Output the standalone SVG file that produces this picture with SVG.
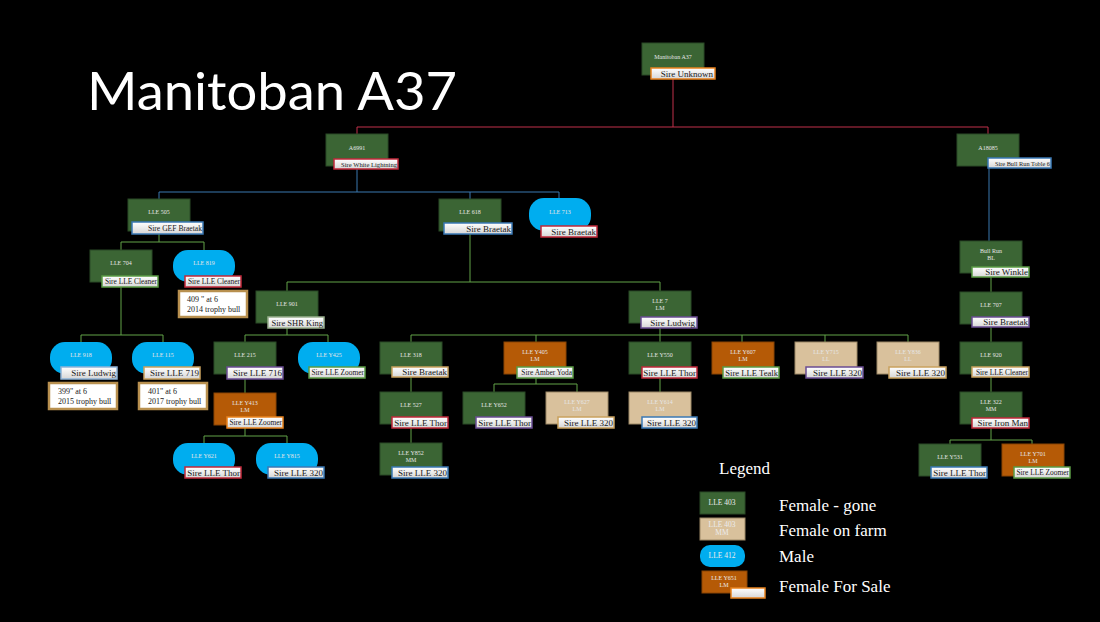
<svg xmlns="http://www.w3.org/2000/svg" width="1100" height="622" viewBox="0 0 1100 622">
<defs>
<linearGradient id="lg" x1="0" y1="0" x2="0" y2="1"><stop offset="0" stop-color="#ffffff"/><stop offset="1" stop-color="#d6d6d6"/></linearGradient>
<style>
.g{fill:#3b6534;stroke:#2b4a26;stroke-width:1}
.o{fill:#b55a06;stroke:#8a4504;stroke-width:1}
.t{fill:#d9c19c;stroke:#9c8866;stroke-width:1}
.m{fill:#00adef}
.nt{font-family:"Liberation Serif",serif;font-size:6px;fill:#e6e6e6;text-anchor:middle}
.lb{fill:url(#lg);stroke-width:1.5}
.lt{font-family:"Liberation Serif",serif;font-size:9px;fill:#1a1a1a;text-anchor:end}
.sm{font-size:7.4px}
.xs{font-size:6.6px}
.ib{fill:#ffffff;stroke:#b8904f;stroke-width:2.5}
.it{font-family:"Liberation Serif",serif;font-size:8px;fill:#1a1a1a}
.cr{stroke:#c0304a;stroke-width:1;fill:none}
.cb{stroke:#3a78b0;stroke-width:1;fill:none}
.cg{stroke:#62a348;stroke-width:1;fill:none}
.bred{stroke:#c0283a}.bblu{stroke:#3a78b4}.bgrn{stroke:#5a9a44}.bpur{stroke:#6a4c93}.btan{stroke:#c9a15e}.bora{stroke:#e8821e}.bgry{stroke:#9bb08e}.blbl{stroke:#8fb4d8}
.leg{font-family:"Liberation Serif",serif;font-size:17px;fill:#ffffff}
.lnt{font-family:"Liberation Serif",serif;font-size:7.5px;fill:#ececec;text-anchor:middle}
</style>
</defs>
<rect x="0" y="0" width="1100" height="622" fill="#000000"/>
<text x="87" y="110" font-family="Lato,'Open Sans',sans-serif" font-size="52" textLength="370" lengthAdjust="spacingAndGlyphs" fill="#ffffff">Manitoban A37</text>

<g id="connectors">
<path class="cr" d="M673,79V127M357,127H988M357,127V134M988,127V134"/>
<path class="cb" d="M357,169V192M159,192H559M159,192V199M470,192V199M559,192V198M989,168V241"/>
<path class="cg" d="M159,234V242M121,242H204M121,242V250M204,242V250"/>
<path class="cg" d="M470,234V282M287,282H660M287,282V291M660,282V291"/>
<path class="cg" d="M121,287V335M81,335H163M81,335V342M163,335V342"/>
<path class="cg" d="M287,328V335M245,335H328M245,335V342M328,335V342"/>
<path class="cg" d="M245,379V393M245,428V436M204,436H287M204,436V443M287,436V443"/>
<path class="cg" d="M660,328V335M411,335H908M411,335V342M536,335V342M660,335V342M742,335V342M825,335V342M908,335V342"/>
<path class="cg" d="M411,377V392M411,428V443M536,378V384M494,384H577M494,384V392M577,384V392M660,378V392"/>
<path class="cg" d="M991,277V292M991,327V342M991,377V392M991,428V440M950,440H1032M950,440V444M1032,440V444"/>
</g>

<g id="n-a37"><rect class="g" x="642" y="43" width="62" height="32"/><text class="nt" x="673" y="59">Manitoban A37</text><rect class="lb bora" x="651" y="68" width="64" height="11"/><text class="lt" x="713" y="77">Sire Unknown</text></g>
<g id="n-a6991"><rect class="g" x="326" y="134" width="62" height="32"/><text class="nt" x="357" y="150">A6991</text><rect class="lb bred" x="334" y="159" width="64" height="10"/><text class="lt xs" x="397" y="167">Sire White Lightning</text></g>
<g id="n-a18085"><rect class="g" x="957" y="134" width="62" height="32"/><text class="nt" x="988" y="150">A18085</text><rect class="lb bblu" x="988" y="158" width="63" height="10"/><text class="lt" x="1050" y="166" style="font-size:6.3px">Sire Bull Run Toble 6</text></g>
<g id="n-505"><rect class="g" x="128" y="199" width="62" height="32"/><text class="nt" x="159" y="214">LLE 505</text><rect class="lb bblu" x="132" y="222" width="71" height="12"/><text class="lt" x="202" y="231" style="font-size:7.6px">Sire GEF Braetak</text></g>
<g id="n-618"><rect class="g" x="439" y="199" width="62" height="32"/><text class="nt" x="470" y="214">LLE 618</text><rect class="lb bblu" x="444" y="223" width="68" height="11"/><text class="lt" x="511" y="232">Sire Braetak</text></g>
<g id="n-713"><rect class="m" x="529" y="198" width="62" height="33" rx="15"/><text class="nt" x="560" y="214">LLE 713</text><rect class="lb bred" x="541" y="226" width="56" height="11"/><text class="lt" x="596" y="235">Sire Braetak</text></g>
<g id="n-704"><rect class="g" x="90" y="250" width="62" height="32"/><text class="nt" x="121" y="265">LLE 704</text><rect class="lb bgrn" x="102" y="276" width="56" height="11"/><text class="lt sm" x="157" y="284">Sire LLE Cleaner</text></g>
<g id="n-819"><rect class="m" x="173" y="250" width="62" height="32" rx="15"/><text class="nt" x="204" y="265">LLE 819</text><rect class="lb bred" x="185" y="276" width="56" height="11"/><text class="lt sm" x="240" y="284">Sire LLE Cleaner</text>
<rect class="ib" x="179" y="291" width="68" height="26"/><text class="it" x="187" y="302">409 " at 6</text><text class="it" x="187" y="312">2014 trophy bull</text></g>
<g id="n-901"><rect class="g" x="256" y="291" width="62" height="32"/><text class="nt" x="287" y="306">LLE 901</text><rect class="lb bgry" x="268" y="317" width="56" height="11"/><text class="lt" x="323" y="326" style="font-size:8.5px">Sire SHR King</text></g>
<g id="n-7"><rect class="g" x="629" y="291" width="62" height="32"/><text class="nt" x="660" y="303">LLE 7</text><text class="nt" x="660" y="310">LM</text><rect class="lb bpur" x="641" y="317" width="56" height="11"/><text class="lt" x="695" y="326">Sire Ludwig</text></g>
<g id="n-918"><rect class="m" x="50" y="342" width="62" height="32" rx="15"/><text class="nt" x="81" y="357">LLE 918</text><rect class="lb blbl" x="61" y="367" width="56" height="12"/><text class="lt" x="116" y="376">Sire Ludwig</text>
<rect class="ib" x="49" y="383" width="68" height="26"/><text class="it" x="58" y="394">399" at 6</text><text class="it" x="58" y="404">2015 trophy bull</text></g>
<g id="n-115"><rect class="m" x="132" y="342" width="62" height="32" rx="15"/><text class="nt" x="163" y="357">LLE 115</text><rect class="lb btan" x="144" y="367" width="56" height="12"/><text class="lt" x="199" y="376">Sire LLE 719</text>
<rect class="ib" x="139" y="383" width="68" height="26"/><text class="it" x="148" y="394">401" at 6</text><text class="it" x="148" y="404">2017 trophy bull</text></g>
<g id="n-215"><rect class="g" x="214" y="342" width="62" height="32"/><text class="nt" x="245" y="357">LLE 215</text><rect class="lb bpur" x="227" y="367" width="56" height="12"/><text class="lt" x="282" y="376">Sire LLE 716</text></g>
<g id="n-y425"><rect class="m" x="298" y="342" width="62" height="32" rx="15"/><text class="nt" x="329" y="357">LLE Y425</text><rect class="lb bgrn" x="309" y="367" width="56" height="11"/><text class="lt sm" x="364" y="375">Sire LLE Zoomer</text></g>
<g id="n-y413"><rect class="o" x="214" y="393" width="62" height="32"/><text class="nt" x="245" y="405">LLE Y413</text><text class="nt" x="245" y="412">LM</text><rect class="lb bora" x="227" y="417" width="56" height="11"/><text class="lt sm" x="282" y="425">Sire LLE Zoomer</text></g>
<g id="n-y621"><rect class="m" x="173" y="443" width="62" height="32" rx="15"/><text class="nt" x="204" y="458">LLE Y621</text><rect class="lb bred" x="185" y="467" width="56" height="11"/><text class="lt" x="240" y="476">Sire LLE Thor</text></g>
<g id="n-y815"><rect class="m" x="256" y="443" width="62" height="32" rx="15"/><text class="nt" x="287" y="458">LLE Y815</text><rect class="lb bblu" x="268" y="467" width="56" height="11"/><text class="lt" x="323" y="476">Sire LLE 320</text></g>
<g id="n-318"><rect class="g" x="380" y="342" width="62" height="32"/><text class="nt" x="411" y="357">LLE 318</text><rect class="lb btan" x="392" y="367" width="56" height="10"/><text class="lt" x="447" y="375">Sire Braetak</text></g>
<g id="n-527"><rect class="g" x="380" y="392" width="62" height="32"/><text class="nt" x="411" y="407">LLE 527</text><rect class="lb bred" x="392" y="417" width="56" height="11"/><text class="lt" x="447" y="426">Sire LLE Thor</text></g>
<g id="n-y852"><rect class="g" x="380" y="443" width="62" height="32"/><text class="nt" x="411" y="455">LLE Y852</text><text class="nt" x="411" y="462">MM</text><rect class="lb bblu" x="392" y="467" width="56" height="11"/><text class="lt" x="447" y="476">Sire LLE 320</text></g>
<g id="n-y405"><rect class="o" x="504" y="342" width="62" height="32"/><text class="nt" x="535" y="354">LLE Y405</text><text class="nt" x="535" y="361">LM</text><rect class="lb bgrn" x="517" y="367" width="56" height="11"/><text class="lt sm" x="572" y="375">Sire Amber Yoda</text></g>
<g id="n-y652"><rect class="g" x="463" y="392" width="62" height="32"/><text class="nt" x="494" y="407">LLE Y652</text><rect class="lb bpur" x="476" y="417" width="56" height="11"/><text class="lt" x="531" y="426">Sire LLE Thor</text></g>
<g id="n-y627"><rect class="t" x="546" y="392" width="62" height="32"/><text class="nt" x="577" y="404">LLE Y627</text><text class="nt" x="577" y="411">LM</text><rect class="lb btan" x="558" y="417" width="56" height="11"/><text class="lt" x="613" y="426">Sire LLE 320</text></g>
<g id="n-y550"><rect class="g" x="629" y="342" width="62" height="32"/><text class="nt" x="660" y="357">LLE Y550</text><rect class="lb bred" x="642" y="367" width="55" height="11"/><text class="lt" x="696" y="376">Sire LLE Thor</text></g>
<g id="n-y614"><rect class="t" x="629" y="392" width="62" height="32"/><text class="nt" x="660" y="404">LLE Y614</text><text class="nt" x="660" y="411">LM</text><rect class="lb bblu" x="642" y="417" width="55" height="11"/><text class="lt" x="696" y="426">Sire LLE 320</text></g>
<g id="n-y607"><rect class="o" x="712" y="342" width="62" height="32"/><text class="nt" x="743" y="354">LLE Y607</text><text class="nt" x="743" y="361">LM</text><rect class="lb bgrn" x="723" y="367" width="56" height="11"/><text class="lt" x="778" y="376" style="font-size:8.6px">Sire LLE Tealk</text></g>
<g id="n-y715"><rect class="t" x="795" y="342" width="62" height="32"/><text class="nt" x="826" y="354">LLE Y715</text><text class="nt" x="826" y="361">LL</text><rect class="lb bpur" x="806" y="367" width="57" height="11"/><text class="lt" x="862" y="376">Sire LLE 320</text></g>
<g id="n-y836"><rect class="t" x="877" y="342" width="62" height="32"/><text class="nt" x="908" y="354">LLE Y836</text><text class="nt" x="908" y="361">LL</text><rect class="lb btan" x="889" y="367" width="57" height="11"/><text class="lt" x="945" y="376">Sire LLE 320</text></g>
<g id="n-bullrun"><rect class="g" x="960" y="241" width="62" height="32"/><text class="nt" x="991" y="253">Bull Run</text><text class="nt" x="991" y="260">BL</text><rect class="lb bgrn" x="972" y="267" width="57" height="10"/><text class="lt" x="1028" y="275">Sire Winkle</text></g>
<g id="n-707"><rect class="g" x="960" y="292" width="62" height="32"/><text class="nt" x="991" y="307">LLE 707</text><rect class="lb bpur" x="972" y="317" width="57" height="10"/><text class="lt" x="1028" y="325">Sire Braetak</text></g>
<g id="n-920"><rect class="g" x="960" y="342" width="62" height="32"/><text class="nt" x="991" y="357">LLE 920</text><rect class="lb btan" x="972" y="367" width="57" height="10"/><text class="lt sm" x="1028" y="375">Sire LLE Cleaner</text></g>
<g id="n-322"><rect class="g" x="960" y="392" width="62" height="32"/><text class="nt" x="991" y="404">LLE 322</text><text class="nt" x="991" y="411">MM</text><rect class="lb bred" x="972" y="418" width="57" height="10"/><text class="lt" x="1028" y="426">Sire Iron Man</text></g>
<g id="n-y531"><rect class="g" x="919" y="444" width="62" height="32"/><text class="nt" x="950" y="459">LLE Y531</text><rect class="lb bblu" x="931" y="467" width="56" height="11"/><text class="lt" x="986" y="476">Sire LLE Thor</text></g>
<g id="n-y701"><rect class="o" x="1002" y="444" width="62" height="32"/><text class="nt" x="1033" y="456">LLE Y701</text><text class="nt" x="1033" y="463">LM</text><rect class="lb bgrn" x="1014" y="467" width="56" height="11"/><text class="lt sm" x="1069" y="475">Sire LLE Zoomer</text></g>

<g id="legend">
<text class="leg" x="719" y="474">Legend</text>
<rect class="g" x="700" y="492" width="45" height="22"/><text class="lnt" x="722" y="505">LLE 403</text>
<text class="leg" x="779" y="511">Female - gone</text>
<rect class="t" x="700" y="518" width="45" height="22"/><text class="lnt" x="722" y="527">LLE 403</text><text class="lnt" x="722" y="535">MM</text>
<text class="leg" x="779" y="536">Female on farm</text>
<rect class="m" x="700" y="545" width="45" height="22" rx="10"/><text class="lnt" x="722" y="558">LLE 412</text>
<text class="leg" x="779" y="562">Male</text>
<rect class="o" x="702" y="571" width="45" height="22"/><text class="lnt" x="724" y="580" style="font-size:6px">LLE Y651</text><text class="lnt" x="724" y="587" style="font-size:6px">LM</text>
<rect class="lb bora" x="731" y="588" width="34" height="10"/>
<text class="leg" x="779" y="592">Female For Sale</text>
</g>
</svg>
